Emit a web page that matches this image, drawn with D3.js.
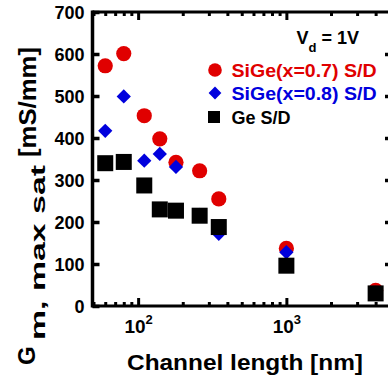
<!DOCTYPE html>
<html>
<head>
<meta charset="utf-8">
<script src="https://cdn.jsdelivr.net/npm/d3@7"></script>
<style>
  html, body { margin: 0; padding: 0; background: #fff; }
  svg { display: block; }
  text { font-family: "Liberation Sans", Arial, Helvetica, sans-serif; font-weight: bold; }
</style>
</head>
<body>
<div id="chart"></div>
<script>
// ---- data ----
const channelLength = [60, 80, 110, 140, 180, 260, 350, 1000, 4000];
const sige07 = [572, 601, 453, 398, 342, 322, 255, 137, 37];
const sige08 = [417, 499, 346, 362, 331, 217, 172, 128, 32];
const geSD   = [340, 343, 287, 230, 227, 215, 188, 96, 30];
const yTicks = [0, 100, 200, 300, 400, 500, 600, 700];
const xMajor = [100, 1000];
const xMinor = [50, 60, 70, 80, 90, 200, 300, 400, 500, 600, 700, 800, 900, 2000, 3000, 4000];
const seriesNames = ["SiGe(x=0.7) S/D", "SiGe(x=0.8) S/D", "Ge S/D"];
const seriesColors = ["#e00000", "#0000dd", "#000000"];

const W = 388, H = 379;
const svg = d3.select("#chart").append("svg").attr("width", W).attr("height", H);

const x = d3.scaleLog().domain([50, 5000]).range([93.5, 390]);
const y = d3.scaleLinear().domain([0, 700]).range([306, 12]);

const x0 = x.range()[0] - 1, x1 = x.range()[1], y0 = y.range()[0], y1 = y.range()[1];
const diamond = d3.symbolDiamond2 || d3.symbolDiamond;

// ---- points (drawn first; frame on top) ----
const pts = channelLength.map((L, i) => ({L, a: sige07[i], b: sige08[i], c: geSD[i]}));
const gPts = svg.append("g");
gPts.selectAll("circle").data(pts).join("circle")
  .attr("cx", d => x(d.L)).attr("cy", d => y(d.a)).attr("r", 7.6)
  .attr("fill", seriesColors[0]);
gPts.selectAll("path.dia").data(pts).join("path").attr("class", "dia")
  .attr("d", d3.symbol(diamond, 130))
  .attr("transform", d => `translate(${x(d.L)},${y(d.b)})`)
  .attr("fill", seriesColors[1]);
gPts.selectAll("rect").data(pts).join("rect")
  .attr("x", d => x(d.L) - 8).attr("y", d => y(d.c) - 8)
  .attr("width", 16).attr("height", 16)
  .attr("fill", seriesColors[2]);

// ---- axes ----
const frame = svg.append("g");
const axisLeft = d3.axisLeft(y).tickValues(yTicks).tickSize(-7).tickPadding(8).tickFormat(d3.format("d"));
const gl = frame.append("g").attr("transform", `translate(${x0},0)`).call(axisLeft);
gl.select(".domain").remove();
gl.selectAll(".tick line").attr("stroke", "#000").attr("stroke-width", 3.5);
gl.selectAll(".tick text").attr("font-size", 18).attr("fill", "#000").attr("dy", "0.35em")
  .attr("font-family", "'Liberation Sans', Arial, sans-serif").attr("font-weight", "bold");

const axisRight = d3.axisRight(y).tickValues(yTicks.slice(1, -1)).tickSize(-5).tickFormat("");
const gr = frame.append("g").attr("transform", `translate(${x1},0)`).call(axisRight);
gr.select(".domain").remove();
gr.selectAll(".tick line").attr("stroke", "#000").attr("stroke-width", 3.5);

function xTicks(sel, dir) {
  const axMaj = (dir > 0 ? d3.axisBottom(x) : d3.axisTop(x)).tickValues(xMajor).tickSize(-8).tickFormat("");
  const axMin = (dir > 0 ? d3.axisBottom(x) : d3.axisTop(x)).tickValues(xMinor).tickSize(-4).tickFormat("");
  const a = sel.append("g").call(axMaj); a.select(".domain").remove();
  a.selectAll(".tick line").attr("stroke", "#000").attr("stroke-width", 3);
  const b = sel.append("g").call(axMin); b.select(".domain").remove();
  b.selectAll(".tick line").attr("stroke", "#000").attr("stroke-width", 3);
}
xTicks(frame.append("g").attr("transform", `translate(0,${y0})`), 1);
xTicks(frame.append("g").attr("transform", `translate(0,${y1})`), -1);

// frame lines
frame.append("line").attr("x1", x0).attr("x2", x0).attr("y1", y1 - 1.5).attr("y2", y0 + 1.5)
  .attr("stroke", "#000").attr("stroke-width", 3.5);
frame.append("line").attr("x1", x1).attr("x2", x1).attr("y1", y1).attr("y2", y0)
  .attr("stroke", "#000").attr("stroke-width", 3);
frame.append("line").attr("x1", x0).attr("x2", x1).attr("y1", y0).attr("y2", y0)
  .attr("stroke", "#000").attr("stroke-width", 3);
frame.append("line").attr("x1", x0).attr("x2", x1).attr("y1", y1).attr("y2", y1)
  .attr("stroke", "#000").attr("stroke-width", 3);

// x tick labels: 10^n
const xl = svg.append("g");
xMajor.forEach(v => {
  const t = xl.append("text").attr("x", x(v) + 0.5).attr("y", 333).attr("text-anchor", "middle").attr("font-size", 19);
  t.append("tspan").text("10");
  t.append("tspan").attr("dy", -9).attr("font-size", 13).text(String(Math.round(Math.log10(v))));
});

// x title
svg.append("text").attr("x", 245).attr("y", 370).attr("text-anchor", "middle")
  .attr("font-size", 22).attr("textLength", 236).attr("lengthAdjust", "spacingAndGlyphs")
  .text("Channel length [nm]");

// y title (rotated)
const yt = svg.append("g");
yt.append("text").attr("transform", "translate(35,365) rotate(-90)").attr("font-size", 24).text("G");
yt.append("text").attr("transform", "translate(45,340) rotate(-90)").attr("font-size", 20)
  .attr("textLength", 175).attr("lengthAdjust", "spacingAndGlyphs").text("m, max sat");
yt.append("text").attr("transform", "translate(36,157) rotate(-90)").attr("font-size", 24)
  .attr("textLength", 110).attr("lengthAdjust", "spacingAndGlyphs").text("[mS/mm]");

// legend
const lg = svg.append("g");
const vt = lg.append("text").attr("x", 296.5).attr("y", 44).attr("font-size", 18);
vt.append("tspan").text("V");
vt.append("tspan").attr("dy", 8).attr("font-size", 13).text("d");
vt.append("tspan").attr("dy", -8).text(" = 1V");

const legY = [70, 93, 117];
lg.append("circle").attr("cx", 215).attr("cy", legY[0]).attr("r", 6.8).attr("fill", seriesColors[0]);
lg.append("path").attr("d", d3.symbol(diamond, 104))
  .attr("transform", `translate(215,${legY[1]})`).attr("fill", seriesColors[1]);
lg.append("rect").attr("x", 208).attr("y", legY[2] - 6).attr("width", 12).attr("height", 12).attr("fill", seriesColors[2]);
seriesNames.forEach((n, i) => {
  const t = lg.append("text").attr("x", 231.5).attr("y", legY[i] + 6.5).attr("font-size", 18)
    .attr("fill", seriesColors[i]).text(n);
  if (i < 2) t.attr("textLength", 145).attr("lengthAdjust", "spacingAndGlyphs");
});
</script>
</body>
</html>
